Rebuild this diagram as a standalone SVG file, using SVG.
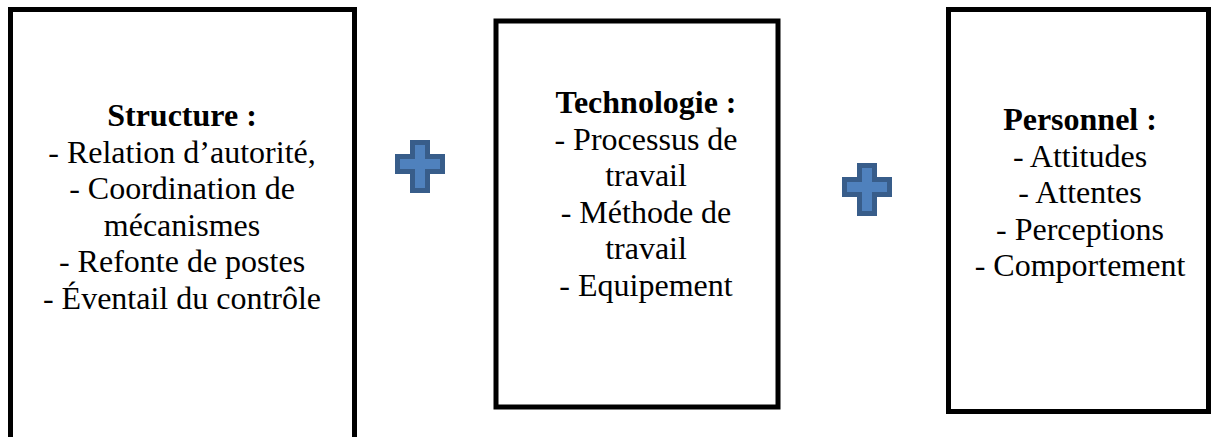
<svg xmlns="http://www.w3.org/2000/svg" width="1211" height="437" viewBox="0 0 1211 437">
<style>
.box{fill:#ffffff;stroke:#000000;stroke-width:5}
.t{font-family:"Liberation Serif","Times New Roman",serif;font-size:32px;fill:#000000;text-anchor:middle}
.b{font-weight:bold}
.plus{fill:#4f81bd;stroke:#385d8a;stroke-width:5;stroke-linejoin:miter}
</style>
<rect width="1211" height="437" fill="#ffffff"/>
<g id="node-structure">
<rect class="box" x="10.5" y="9.5" width="344" height="440"/>
<text class="t b" x="182" y="126">Structure :</text>
<text class="t" x="182" y="162.5">- Relation d’autorité,</text>
<text class="t" x="182" y="199">- Coordination de</text>
<text class="t" x="182" y="235.5">mécanismes</text>
<text class="t" x="182" y="272">- Refonte de postes</text>
<text class="t" x="182" y="308.5">- Éventail du contrôle</text>
</g>
<g id="node-technologie">
<rect class="box" x="496" y="21" width="282" height="386"/>
<text class="t b" x="646" y="113">Technologie :</text>
<text class="t" x="646" y="149.5">- Processus de</text>
<text class="t" x="646" y="186">travail</text>
<text class="t" x="646" y="222.5">- Méthode de</text>
<text class="t" x="646" y="259">travail</text>
<text class="t" x="646" y="295.5">- Equipement</text>
</g>
<g id="node-personnel">
<rect class="box" x="948.5" y="9.5" width="260" height="402"/>
<text class="t b" x="1080" y="130">Personnel :</text>
<text class="t" x="1080" y="166.5">- Attitudes</text>
<text class="t" x="1080" y="203">- Attentes</text>
<text class="t" x="1080" y="239.5">- Perceptions</text>
<text class="t" x="1080" y="276">- Comportement</text>
</g>
<g id="connectors">
<path id="plus1" class="plus" d="M412.5,142.5 H427.5 V156.5 H442.5 V171.5 H427.5 V190.5 H412.5 V171.5 H397.5 V156.5 H412.5 Z"/>
<path id="plus2" class="plus" d="M859.5,165.5 H874.5 V179.5 H889.5 V194.5 H874.5 V213.5 H859.5 V194.5 H844.5 V179.5 H859.5 Z"/>
</g>
</svg>
